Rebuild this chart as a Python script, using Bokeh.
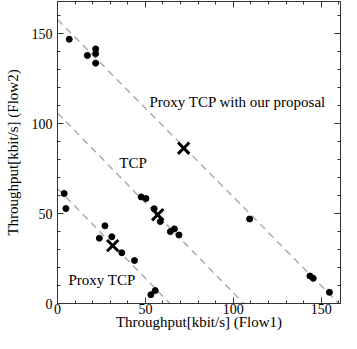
from bokeh.plotting import figure
from bokeh.models import Range1d, LinearAxis, SingleIntervalTicker, ColumnDataSource, CustomLabelingPolicy
from bokeh.core.properties import value
from bokeh.embed import file_html
from bokeh.resources import INLINE

# data
dot_x = [6.7, 17.0, 21.7, 21.7, 21.7, 3.8, 4.8, 27.0, 23.8, 30.9, 36.6, 43.8, 53.1, 55.6,
         47.6, 50.3, 55.0, 58.5, 64.2, 66.5, 69.1, 109.3, 143.6, 145.5, 154.7]
dot_y = [147.0, 138.0, 141.6, 139.0, 133.7, 61.2, 52.8, 43.2, 36.3, 37.1, 28.2, 23.9, 4.9, 7.2,
         59.3, 58.4, 52.7, 45.6, 40.0, 41.5, 38.1, 47.0, 15.3, 14.0, 6.2]
mean_x = [71.8, 57.0, 31.4]
mean_y = [86.4, 49.4, 32.2]
line_proposal_x = [0, 160]
line_proposal_y = [158, 0]
line_tcp_x = [0, 106]
line_tcp_y = [106, 0]
line_proxy_x = [0, 64]
line_proxy_y = [64, 0]
label_texts = ["Proxy TCP with our proposal", "TCP", "Proxy TCP"]
label_x = [52.3, 35.2, 6.2]
label_y = [112.2, 78.1, 12.8]

FONT = "Liberation Serif"
AX = "#333333"

p = figure(width=341, height=333, output_backend="svg", toolbar_location=None,
           x_range=Range1d(0, 161), y_range=Range1d(0, 168),
           min_border_left=57, min_border_top=1, min_border_right=1, min_border_bottom=30)
p.grid.visible = False
p.outline_line_color = AX
p.background_fill_color = "white"

for xs, ys in [(line_proposal_x, line_proposal_y), (line_tcp_x, line_tcp_y), (line_proxy_x, line_proxy_y)]:
    p.line(xs, ys, line_color="#a8a8a8", line_width=1.4, line_dash="7 5")

p.scatter(dot_x, dot_y, marker="circle", size=6, fill_color="black", line_color="black")
p.scatter(mean_x, mean_y, marker="x", size=16, line_color="black", line_width=3)

src = ColumnDataSource(dict(x=label_x, y=label_y, t=label_texts))
p.text(x="x", y="y", text="t", source=src, text_font=value(FONT), text_font_size="15px",
       text_baseline="middle", text_align="left", text_color="black")

hide_labels = CustomLabelingPolicy(code="""
try { for (const i of Array.from(indices.ones())) { indices.unset(i) } } catch (e) {}
return indices
""")

def style(ax, labels=True):
    ax.ticker = SingleIntervalTicker(interval=50, num_minor_ticks=5)
    ax.axis_line_color = AX
    ax.major_tick_line_color = AX
    ax.minor_tick_line_color = AX
    ax.major_tick_in = 6
    ax.major_tick_out = 0
    ax.minor_tick_in = 3
    ax.minor_tick_out = 0
    ax.major_label_text_font = FONT
    ax.major_label_text_font_size = "14px"
    ax.major_label_text_color = "black"
    ax.axis_label_text_font = FONT
    ax.axis_label_text_font_size = "15px"
    ax.axis_label_text_font_style = "normal"
    ax.axis_label_text_color = "black"
    if not labels:
        ax.major_label_text_font_size = "0px"
        ax.major_label_standoff = 0
        ax.major_label_policy = hide_labels

style(p.xaxis[0])
style(p.yaxis[0])
p.xaxis[0].axis_label = "Throughput[kbit/s] (Flow1)"
p.yaxis[0].axis_label = "Throughput[kbit/s] (Flow2)"
p.xaxis[0].major_label_standoff = 0
p.xaxis[0].axis_label_standoff = -3
p.yaxis[0].major_label_standoff = 5
p.yaxis[0].axis_label_standoff = 8

top = LinearAxis()
style(top, labels=False)
p.add_layout(top, "above")
right = LinearAxis()
style(right, labels=False)
p.add_layout(right, "right")

open("out.html", "w").write(file_html(p, INLINE))
